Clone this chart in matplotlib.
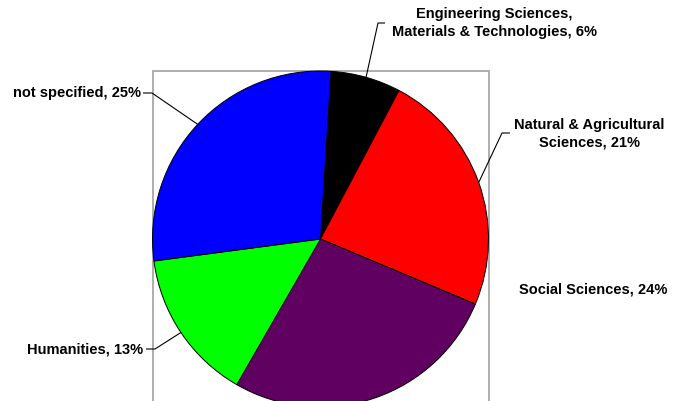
import numpy as np
import matplotlib
matplotlib.use("Agg")
from matplotlib import pyplot as plt
from matplotlib.patches import Rectangle

# share of publications per field (labels show the raw percentages)
fields = ["Engineering Sciences,\nMaterials & Technologies",
          "Natural & Agricultural\nSciences",
          "Social Sciences",
          "Humanities",
          "not specified"]
shares = [6, 21, 24, 13, 25]
colours = ["#000000", "#ff0000", "#600060", "#00ff00", "#0000ff"]

plt.rcParams['font.family'] = ['Liberation Sans', 'DejaVu Sans']

W, H = 675, 401
CX, CY, R = 320.5, 239.0, 168.0


def px(x, y):
	# image pixel -> data units (pie radius = 1)
	return (x - CX) / R, (CY - y) / R


fig = plt.figure(figsize=(W / 100, H / 100), dpi=100)
ax = fig.add_axes([0, 0, 1, 1])

wedges, _ = ax.pie(shares, colors=colours, startangle=86.4, counterclock=False,
	radius=1, center=(0, 0),
	wedgeprops=dict(edgecolor="black", linewidth=0.7))

# plot area frame around the pie
ax.add_patch(Rectangle((-1, -1), 2, 2, fill=False, edgecolor="#a0a0a0", linewidth=1.2, zorder=0))

# label text position, elbow of leader line, end of the short horizontal tick
layout = [
	(px(494, 23), "center", px(378, 23), px(385, 23)),
	(px(514, 134), "left", px(502, 133), px(510, 133)),
	(px(519, 290), "left", None, None),
	(px(143, 349), "right", px(155, 349), px(146, 349)),
	(px(141, 93), "right", px(152, 93), px(143, 93)),
]

for wedge, name, value, (pos, ha, elbow, tick) in zip(wedges, fields, shares, layout):
	text = "{0}, {1}%".format(name, value)
	ax.text(pos[0], pos[1], text, ha=ha, va="center", fontsize=10.5,
		fontweight="bold", multialignment="center", linespacing=1.3)
	if elbow is None:
		continue
	mid = np.deg2rad((wedge.theta1 + wedge.theta2) / 2)
	edge = (np.cos(mid), np.sin(mid))
	ax.plot([edge[0], elbow[0], tick[0]], [edge[1], elbow[1], tick[1]],
		color="black", linewidth=0.8, solid_capstyle="butt")

ax.set_xlim(-CX / R, (W - CX) / R)
ax.set_ylim((CY - H) / R, CY / R)
ax.axis("off")

fig.savefig("out.png", dpi=100)
